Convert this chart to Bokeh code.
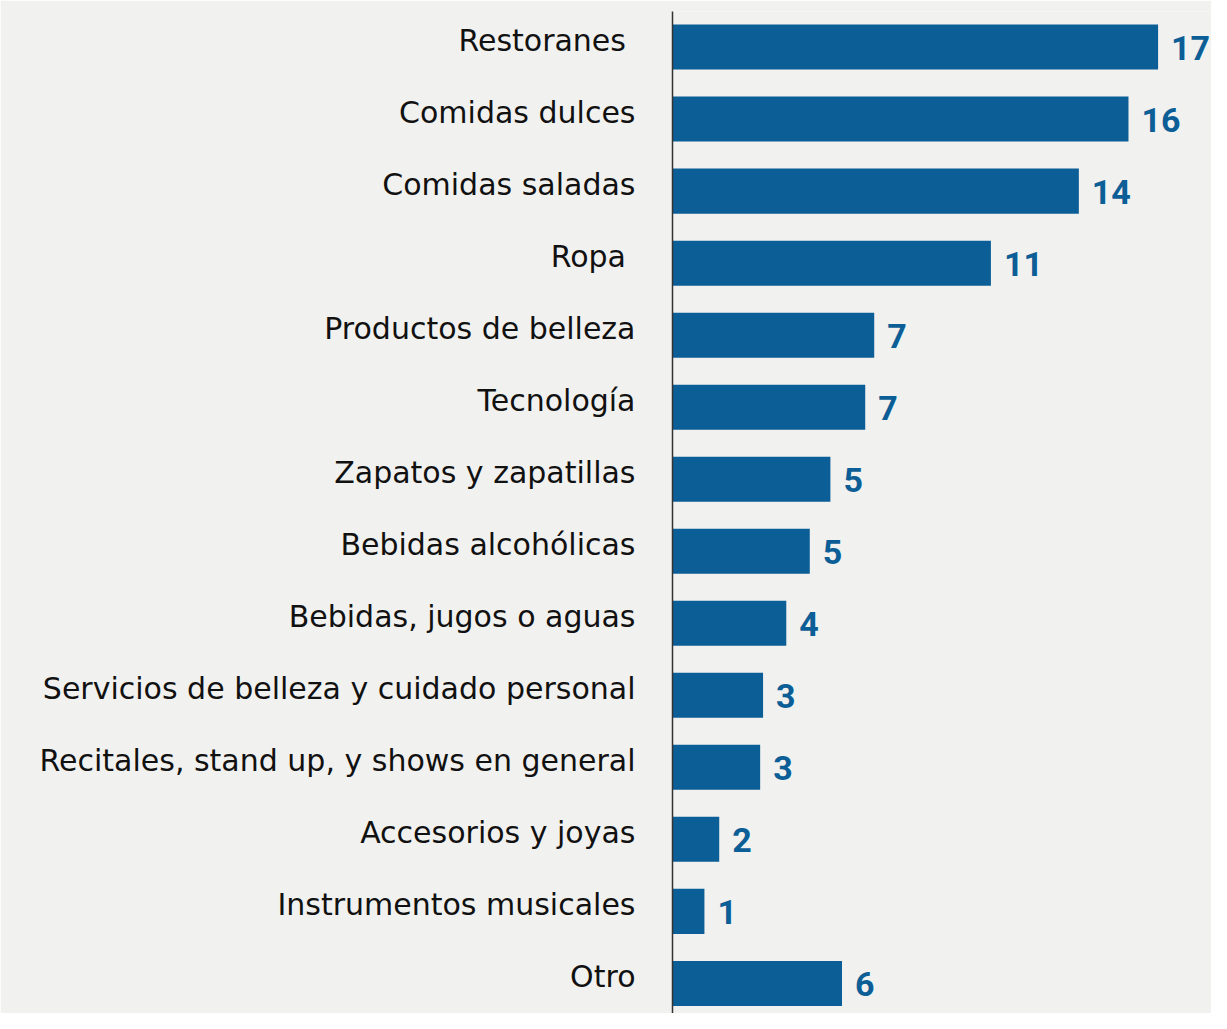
from bokeh.plotting import figure
from bokeh.models import Range1d, FixedTicker, ColumnDataSource
from bokeh.embed import file_html
from bokeh.resources import INLINE
from bokeh.core.properties import value

categories = [
    "Restoranes ",
    "Comidas dulces",
    "Comidas saladas",
    "Ropa ",
    "Productos de belleza",
    "Tecnología",
    "Zapatos y zapatillas",
    "Bebidas alcohólicas",
    "Bebidas, jugos o aguas",
    "Servicios de belleza y cuidado personal",
    "Recitales, stand up, y shows en general",
    "Accesorios y joyas",
    "Instrumentos musicales",
    "Otro",
]
values = [16.73, 15.71, 14.0, 10.97, 6.95, 6.64, 5.44, 4.73, 3.92, 3.12, 3.02, 1.61, 1.10, 5.84]
value_labels = ["17", "16", "14", "11", "7", "7", "5", "5", "4", "3", "3", "2", "1", "6"]

n = len(categories)
positions = [n - 1 - i for i in range(n)]
LABEL_SHIFT = 0.09  # category labels sit slightly above bar centres
tick_positions = [p_ + LABEL_SHIFT for p_ in positions]

BAR = "#0c5e96"
BG = "#f1f1f0"

source = ColumnDataSource(dict(pos=positions, val=values, lab=value_labels, cat=categories))

p = figure(
    width=1211, height=1013,
    x_range=Range1d(0, 18.57), y_range=Range1d(-0.418, 13.494),
    output_backend="svg", toolbar_location=None,
    min_border_left=672, min_border_right=0, min_border_top=11, min_border_bottom=0,
)
p.background_fill_color = BG
p.border_fill_color = BG
p.outline_line_color = None
p.xgrid.visible = False
p.ygrid.visible = False
p.xaxis.visible = False

p.hbar(y="pos", left=0, right="val", height=0.625, source=source,
       fill_color=BAR, line_color=None)

p.text(x="val", y="pos", text="lab", source=source,
       text_font=value("Roboto"), text_font_style="bold",
       text_font_size="34px", text_color=BAR, text_baseline="middle",
       text_align="left", x_offset=13, y_offset=1)

ya = p.yaxis[0]
ya.ticker = FixedTicker(ticks=tick_positions)
ya.major_label_overrides = {t: cat for t, cat in zip(tick_positions, categories)}
ya.major_label_text_font = "DejaVu Sans"
ya.major_label_text_font_size = "30px"
ya.major_label_text_color = "#111111"
ya.major_label_standoff = 31
ya.major_tick_line_color = None
ya.minor_tick_line_color = None
ya.axis_line_color = "#333333"
ya.axis_line_width = 1.5

open("out.html", "w").write(file_html(p, INLINE))
